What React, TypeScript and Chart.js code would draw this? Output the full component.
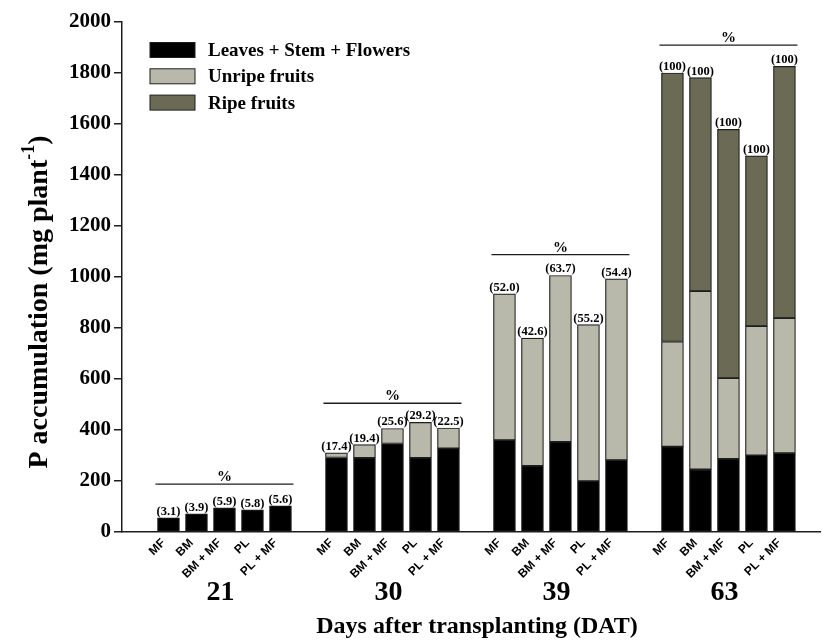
import React, { useEffect, useRef } from 'react';
import { Chart, registerables } from 'chart.js';

Chart.register(...registerables);

// ---------- data ----------
const days = ['21', '30', '39', '63'];
const treatments = ['MF', 'BM', 'BM + MF', 'PL', 'PL + MF'];

// mg plant-1, per bar: 21 DAT (5), 30 DAT (5), 39 DAT (5), 63 DAT (5)
const leavesStemFlowers = [56, 71, 95, 87, 103, 292, 291, 347, 291, 328, 360, 259, 353, 200, 282, 335, 246, 287, 301, 309];
const unripeFruits = [null, null, null, null, null, 18, 52, 59, 139, 80, 574, 501, 653, 613, 711, 412, 699, 316, 506, 530];
const ripeFruits = [null, null, null, null, null, null, null, null, null, null, null, null, null, null, null, 1053, 837, 976, 668, 987];

const percentLabels = [
  '(3.1)', '(3.9)', '(5.9)', '(5.8)', '(5.6)',
  '(17.4)', '(19.4)', '(25.6)', '(29.2)', '(22.5)',
  '(52.0)', '(42.6)', '(63.7)', '(55.2)', '(54.4)',
  '(100)', '(100)', '(100)', '(100)', '(100)',
];
// level (mg plant-1) of the "%" bracket line over each group
const headerLevels = [188, 505, 1088, 1909];

const seriesNames = ['Leaves + Stem + Flowers', 'Unripe fruits', 'Ripe fruits'];
const seriesColors = ['#000000', '#b9b9ab', '#6b6b55'];

const yMax = 2000;
const yStep = 200;

// ---------- helpers ----------
const slotOf = (i: number) => Math.floor(i / treatments.length) * (treatments.length + 1) + (i % treatments.length);
const slots = leavesStemFlowers.map((_, i) => slotOf(i));
const labelForSlot = (v: number) => {
  const idx = slots.indexOf(Math.round(v));
  return idx >= 0 ? treatments[idx % treatments.length] : '';
};

const SERIF = '"Liberation Serif", "Times New Roman", serif';
const SANS = '"Liberation Sans", Arial, sans-serif';
const INK = '#1e1e1e';

const overlayPlugin = {
  id: 'overlay',
  afterDatasetsDraw(chart: any) {
    const ctx = chart.ctx as CanvasRenderingContext2D;
    const xs = chart.scales.x;
    const ys = chart.scales.y;
    ctx.save();

    // percent labels above each bar
    ctx.fillStyle = '#000';
    ctx.font = `bold 12.5px ${SERIF}`;
    ctx.textAlign = 'center';
    ctx.textBaseline = 'alphabetic';
    leavesStemFlowers.forEach((v, i) => {
      const total = (v || 0) + (unripeFruits[i] || 0) + (ripeFruits[i] || 0);
      const x = xs.getPixelForValue(slots[i]);
      const y = ys.getPixelForValue(total);
      ctx.fillText(percentLabels[i], x, y - 3);
    });

    // "%" brackets
    days.forEach((_, g) => {
      const first = slots[g * treatments.length];
      const last = slots[g * treatments.length + treatments.length - 1];
      const x1 = xs.getPixelForValue(first) - 13;
      const x2 = xs.getPixelForValue(last) + 13;
      const yl = ys.getPixelForValue(headerLevels[g]);
      ctx.strokeStyle = INK;
      ctx.lineWidth = 1.3;
      ctx.beginPath();
      ctx.moveTo(x1, yl);
      ctx.lineTo(x2, yl);
      ctx.stroke();
      ctx.font = `bold 15px ${SERIF}`;
      ctx.fillText('%', (x1 + x2) / 2, yl - 3);
    });

    // day labels under each group
    ctx.font = `bold 28px ${SERIF}`;
    days.forEach((d, g) => {
      const mid = slots[g * treatments.length + 2];
      ctx.fillText(d, xs.getPixelForValue(mid) - 4, 600);
    });

    // x title
    ctx.font = `bold 24px ${SERIF}`;
    ctx.fillText('Days after transplanting (DAT)', 477, 633);

    // y title with superscript
    ctx.translate(40, 302);
    ctx.rotate(-Math.PI / 2);
    const main = 'P accumulation (mg plant';
    const sup = '-1';
    const close = ')';
    ctx.font = `bold 28px ${SERIF}`;
    const w1 = ctx.measureText(main).width;
    const w3 = ctx.measureText(close).width;
    ctx.font = `bold 18px ${SERIF}`;
    const w2 = ctx.measureText(sup).width;
    const total = w1 + w2 + w3;
    ctx.textAlign = 'left';
    ctx.textBaseline = 'middle';
    ctx.font = `bold 28px ${SERIF}`;
    ctx.fillText(main, -total / 2, 0);
    ctx.font = `bold 18px ${SERIF}`;
    ctx.fillText(sup, -total / 2 + w1, -11);
    ctx.font = `bold 28px ${SERIF}`;
    ctx.fillText(close, -total / 2 + w1 + w2, 0);
    ctx.setTransform(1, 0, 0, 1, 0, 0);

    // legend
    ctx.textAlign = 'left';
    ctx.textBaseline = 'middle';
    ctx.font = `bold 19px ${SERIF}`;
    seriesNames.forEach((name, k) => {
      const cy = 50 + k * 26.3;
      ctx.fillStyle = seriesColors[k];
      ctx.fillRect(150, cy - 7.5, 45, 15);
      ctx.strokeStyle = INK;
      ctx.lineWidth = 1;
      ctx.strokeRect(150, cy - 7.5, 45, 15);
      ctx.fillStyle = '#000';
      ctx.fillText(name, 208, cy + 1);
    });

    ctx.restore();
  },
};

export default function App() {
  const canvasRef = useRef<HTMLCanvasElement | null>(null);

  useEffect(() => {
    if (!canvasRef.current) return;
    const series = [leavesStemFlowers, unripeFruits, ripeFruits];
    const chart = new Chart(canvasRef.current, {
      type: 'bar',
      data: {
        datasets: series.map((vals, k) => ({
          label: seriesNames[k],
          data: vals.map((v, i) => ({ x: slots[i], y: v })),
          backgroundColor: seriesColors[k],
          borderColor: INK,
          borderWidth: 1.2,
          borderSkipped: false,
          barThickness: 22,
        })),
      },
      options: {
        responsive: false,
        animation: false,
        layout: { padding: { top: 22, right: 3, left: 0, bottom: 0 } },
        plugins: { legend: { display: false }, tooltip: { enabled: false } },
        scales: {
          x: {
            type: 'linear',
            min: -1.66,
            max: 23.27,
            offset: false,
            stacked: true,
            grid: { display: false, offset: false, drawTicks: false },
            border: { display: true, color: INK, width: 1.5 },
            afterBuildTicks: (s: any) => {
              s.ticks = slots.map((v) => ({ value: v }));
            },
            afterFit: (s: any) => {
              s.height = 108;
              s.paddingLeft = 0;
              s.paddingRight = 0;
            },
            ticks: {
              autoSkip: false,
              maxRotation: 45,
              minRotation: 45,
              padding: 4,
              labelOffset: -5,
              color: '#000',
              font: { family: SANS, weight: 'bold', size: 12 },
              callback: (v: any) => labelForSlot(Number(v)),
            },
          },
          y: {
            min: 0,
            max: yMax,
            stacked: true,
            grid: { drawOnChartArea: false, tickLength: 8, color: INK, lineWidth: 1.5 },
            border: { color: INK, width: 1.5 },
            afterFit: (s: any) => {
              s.width = 122;
            },
            ticks: {
              stepSize: yStep,
              padding: 3,
              color: '#000',
              font: { family: SERIF, weight: 'bold', size: 21 },
              callback: (v: any) => String(v),
            },
          },
        },
      } as any,
      plugins: [overlayPlugin],
    });
    return () => chart.destroy();
  }, []);

  return (
    <div style={{ position: 'absolute', left: 0, top: 0, width: 823, height: 640, background: '#fff' }}>
      <canvas ref={canvasRef} width={823} height={640} style={{ display: 'block' }} />
    </div>
  );
}
